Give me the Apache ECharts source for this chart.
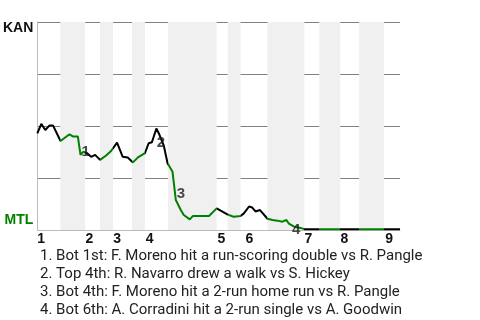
<!DOCTYPE html>
<html>
<head>
<meta charset="utf-8">
<script src="https://cdn.jsdelivr.net/npm/echarts@6/dist/echarts.min.js"></script>
<style>
html,body{margin:0;padding:0;background:#fff;}
#chart{width:480px;height:320px;}
</style>
</head>
<body>
<div id="chart"></div>
<script>
// Win probability for KAN (1 = KAN wins, 0 = MTL wins) by play number
const playX = [0, 1.1, 2.2, 3.38, 4.31, 6.4, 8.87, 9.89, 11.18, 11.9, 12.64, 13.74, 14.84, 15.93, 17.31,
  18.96, 20.33, 21.98, 23.54, 24.92, 26.37, 27.75, 29.67, 30.69, 31.59, 32.83, 33.65, 34.89, 35.91,
  37.28, 38.19, 39.56, 40.38, 42.03, 42.86, 47.34, 49.45, 50.55, 52.39, 54.12, 56.04, 56.95, 58.38,
  59.26, 60.16, 61.4, 63.46, 64.84, 66.21, 67.58, 68.68, 69.37, 70.69, 72.53, 73.63, 100];
const playWP = [0.465, 0.51, 0.481, 0.503, 0.503, 0.428, 0.46, 0.449, 0.449, 0.361, 0.376, 0.369, 0.352, 0.361, 0.337,
  0.358, 0.38, 0.42, 0.352, 0.349, 0.325, 0.349, 0.37, 0.417, 0.422, 0.488, 0.459, 0.404, 0.321,
  0.28, 0.144, 0.096, 0.072, 0.051, 0.067, 0.067, 0.104, 0.093, 0.075, 0.064, 0.067, 0.08, 0.113,
  0.108, 0.089, 0.096, 0.054, 0.048, 0.045, 0.04, 0.048, 0.031, 0.017, 0.01, 0.004, 0.004];

// Bottom halves of innings (MTL batting)
const bottomHalfStart = [6.32, 17.31, 26.1, 35.99, 52.47, 63.46, 77.75, 88.74];
const bottomHalfEnd   = [13.19, 20.88, 29.67, 49.45, 56.04, 73.63, 83.52, 95.6];

// Inning tick labels
const inningLabels = ['1', '2', '3', '4', '5', '6', '7', '8', '9'];
const inningLabelAt = [0, 13.3, 20.9, 29.9, 49.7, 57.4, 73.7, 83.6, 95.9];

// Key events
const eventLabels = ['1', '2', '3', '4'];
const eventX = [13.3, 34.1, 39.6, 71.4];
const eventY = [0.376, 0.418, 0.174, 0.0];
const eventNotes = [
  '1. Bot 1st: F. Moreno hit a run-scoring double vs R. Pangle',
  '2. Top 4th: R. Navarro drew a walk vs S. Hickey',
  '3. Bot 4th: F. Moreno hit a 2-run home run vs R. Pangle',
  '4. Bot 6th: A. Corradini hit a 2-run single vs A. Goodwin'
];
const teamTop = 'KAN';
const teamBottom = 'MTL';

const GREEN = '#008000';
const chart = echarts.init(document.getElementById('chart'), null, {renderer: 'canvas'});

const lineData = playX.map((x, i) => [x, playWP[i]]);
const pieces = bottomHalfStart.map((s, i) => ({gte: s, lt: bottomHalfEnd[i], color: GREEN}));
const bands = bottomHalfStart.map((s, i) => [{xAxis: s}, {xAxis: bottomHalfEnd[i]}]);
const eventData = eventLabels.map((l, i) => ({name: l, value: [eventX[i], eventY[i]]}));

chart.setOption({
  animation: false,
  backgroundColor: '#fff',
  grid: {left: 36, right: 80, top: 22, bottom: 90, containLabel: false},
  title: {
    text: eventNotes.join('\n'),
    left: 35, top: 242,
    textStyle: {fontFamily: 'Roboto', fontSize: 15, fontWeight: 'normal', color: '#222', lineHeight: 18}
  },
  xAxis: {
    type: 'value', min: 0, max: 100,
    splitLine: {show: false},
    axisTick: {show: false},
    axisLine: {show: true, lineStyle: {color: '#bbb', width: 1}},
    axisLabel: {
      customValues: inningLabelAt,
      margin: 2,
      align: 'left',
      fontFamily: 'Liberation Sans', fontSize: 14, fontWeight: 'bold', color: '#111',
      formatter: (v) => {
        const i = inningLabelAt.indexOf(v);
        return i >= 0 ? inningLabels[i] : '';
      }
    }
  },
  yAxis: {
    type: 'value', min: 0, max: 1, interval: 0.25,
    axisTick: {show: false},
    axisLine: {show: true, lineStyle: {color: '#bbb', width: 1}},
    splitLine: {show: true, showMinLine: false, lineStyle: {color: '#808080', width: 1}},
    axisLabel: {
      margin: 4,
      formatter: (v) => v === 1 ? '{kan|' + teamTop + '}' : (v === 0 ? '{mtl|' + teamBottom + '}' : ''),
      rich: {
        kan: {fontFamily: 'Liberation Sans', fontSize: 14, fontWeight: 'bold', color: '#111', lineHeight: 16, padding: [13, 0, 0, 0]},
        mtl: {fontFamily: 'Liberation Sans', fontSize: 14, fontWeight: 'bold', color: GREEN, lineHeight: 16, padding: [0, 0, 20, 0]}
      }
    }
  },
  visualMap: {
    type: 'piecewise', show: false, dimension: 0, seriesIndex: 0,
    pieces: pieces,
    outOfRange: {color: '#000'}
  },
  series: [
    {
      type: 'line', data: lineData, showSymbol: false, symbol: 'none', z: 5,
      lineStyle: {width: 2}
    },
    {
      type: 'line', data: [], z: 1, silent: true,
      markArea: {silent: true, itemStyle: {color: '#f0f0f0', opacity: 1, borderWidth: 0}, data: bands}
    },
    {
      type: 'scatter', data: eventData, symbolSize: 0, clip: false, z: 10, silent: true,
      label: {
        show: true, position: 'inside', formatter: '{b}',
        fontFamily: 'Liberation Sans', fontSize: 15, fontWeight: 'bold', color: '#1a1a1a'
      }
    }
  ]
});
</script>
</body>
</html>
